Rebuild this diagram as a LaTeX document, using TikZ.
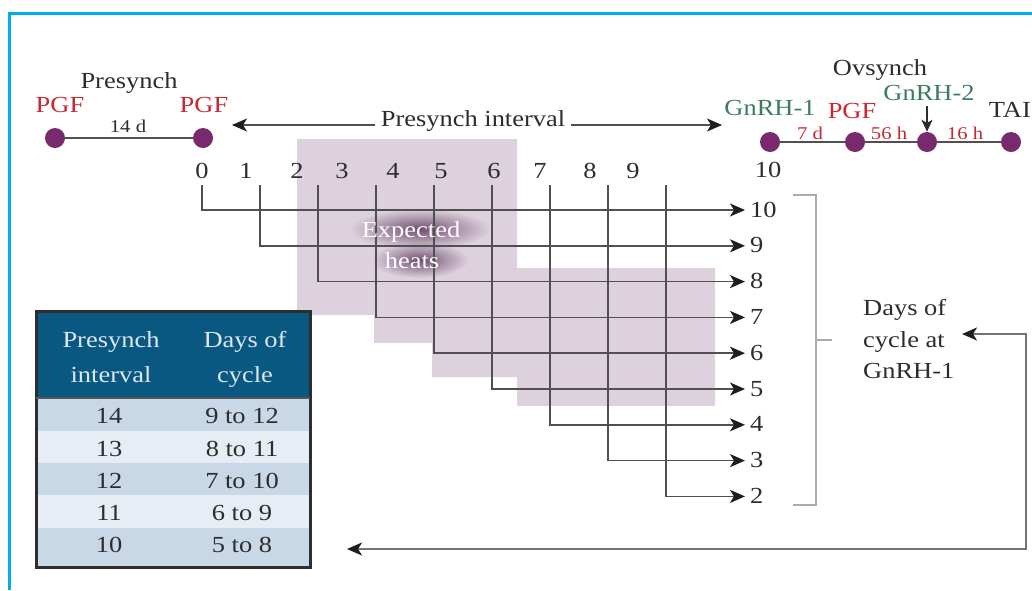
\documentclass[tikz,border=0pt]{standalone}
\usepackage{fontspec}
\setmainfont[FakeStretch=1.15]{Liberation Serif}
\usetikzlibrary{arrows.meta,fadings}
\definecolor{framec}{RGB}{0,174,239}
\definecolor{ink}{RGB}{45,45,45}
\definecolor{redc}{RGB}{200,40,50}
\definecolor{greenc}{RGB}{60,125,95}
\definecolor{dotc}{RGB}{120,42,108}
\definecolor{linec}{RGB}{80,80,80}
\definecolor{tipc}{RGB}{30,30,30}
\definecolor{heatc}{RGB}{221,209,221}
\definecolor{hdr}{RGB}{8,88,130}
\definecolor{hdrtxt}{RGB}{222,230,238}
\definecolor{rowA}{RGB}{201,216,230}
\definecolor{rowB}{RGB}{231,237,245}
\definecolor{brk}{RGB}{170,170,170}
\definecolor{glowc}{RGB}{100,65,100}
\newcommand\szA{\fontsize{23}{27}\selectfont}
\newcommand\szB{\fontsize{18}{21}\selectfont}
\tikzfading[name=softblob, inner color=transparent!10, outer color=transparent!100]
\begin{document}
\begin{tikzpicture}[x=1pt,y=-1pt,
  txt/.style={inner sep=0pt, anchor=base, text=ink, font=\szA},
  sml/.style={inner sep=0pt, anchor=base, font=\szB},
  dot/.style={circle, fill=dotc, minimum size=20pt, inner sep=0pt},
  tline/.style={draw=linec, line width=1.6pt},
  tip/.style={-{Stealth[length=15pt,width=13pt,inset=4pt,color=tipc]}},
  tips/.style={{Stealth[length=15pt,width=13pt,inset=4pt,color=tipc]}-{Stealth[length=15pt,width=13pt,inset=4pt,color=tipc]}},
  conn/.style={draw=linec, line width=1.5pt, tip},
  hd/.style={inner sep=0pt, anchor=base, font=\szA, text=hdrtxt},
  cell/.style={inner sep=0pt, anchor=base, font=\szA, text=ink}
]
\useasboundingbox (0,0) rectangle (1032,590);
% frame
\draw[framec, line width=3pt] (9,590) -- (9,13) -- (1032,13);

% ---------- shaded expected heats (background)
\fill[heatc] (297,139) -- (517,139) -- (517,268) -- (715,268) -- (715,406)
  -- (517,406) -- (517,377) -- (432,377) -- (432,343) -- (374,343) -- (374,315)
  -- (297,315) -- cycle;

% ---------- left timeline (Presynch)
\node[txt] (presynch) at (129,88) {Presynch};
\node[txt, text=redc] (pgfa) at (60,112) {PGF};
\node[txt, text=redc] (pgfb) at (204,112) {PGF};
\node[dot] (da) at (55,138) {};
\node[dot] (db) at (203,138) {};
\draw[tline] (da) -- (db);
\node[sml, text=ink] (d14) at (128,132) {14 d};

% ---------- Presynch interval arrow
\coordinate (pil) at (232,125);
\coordinate (pir) at (722,125);
\draw[draw=linec, line width=1.5pt, tips] (pil) -- (pir);
\node[txt, fill=white, inner sep=6pt, anchor=center] (pint) at (473,121) {Presynch interval};

% ---------- right timeline (Ovsynch)
\node[txt] (ovs) at (880,75) {Ovsynch};
\node[txt, text=greenc] (g1) at (770,115) {GnRH-1};
\node[txt, text=redc] (pgfc) at (852,118) {PGF};
\node[txt, text=greenc] (g2) at (929,100) {GnRH-2};
\node[txt, anchor=base east] (tai) at (1031,117) {TAI};
\node[dot] (o1) at (770,142) {};
\node[dot] (o2) at (855,142) {};
\node[dot] (o3) at (927,142) {};
\node[dot] (o4) at (1011,142) {};
\draw[tline] (o1) -- (o2) -- (o3) -- (o4);
\node[sml, text=redc] (l7) at (810,139) {7 d};
\node[sml, text=redc] (l56) at (889,139) {56 h};
\node[sml, text=redc] (l16) at (965,139) {16 h};
\coordinate (g2a) at (927,106);
\draw[draw=ink, line width=1.5pt, -{Stealth[length=12pt,width=11pt,inset=3pt]}] (g2a) -- (o3.north);
\node[txt] (ten) at (768,177) {10};

% ---------- top day numbers
\foreach \n/\x in {0/202,1/246,2/297,3/342,4/393,5/441,6/494,7/540,8/590,9/633}
  \node[txt] (t\n) at (\x,178) {\n};

% ---------- glow behind "Expected heats"
\fill[glowc, opacity=1, path fading=softblob] (420,229) ellipse [x radius=70pt, y radius=20pt];
\fill[glowc, opacity=1, path fading=softblob] (420,260) ellipse [x radius=48pt, y radius=18pt];

% ---------- stair arrows
\foreach \i in {0,...,8} {
  \pgfmathsetmacro\xx{202+58*\i}
  \pgfmathsetmacro\yy{210+35.8*\i}
  \pgfmathtruncatemacro\lab{10-\i}
  \coordinate (v\i) at (\xx,185);
  \coordinate (e\i) at (745,\yy);
  \node[txt, anchor=base west] (r\lab) at (750,\yy+7) {\lab};
  \draw[conn] (v\i) |- (e\i);
}

\node[txt, text=white] (exp) at (411,237) {Expected};
\node[txt, text=white] (heats) at (412,268) {heats};

% ---------- bracket and label
\draw[brk, line width=2pt] (793,195) -- (816,195) -- (816,505) -- (793,505);
\draw[brk, line width=2pt] (816,340) -- (832,340);
\node[txt, anchor=base west] (dc1) at (863,315) {Days of};
\node[txt, anchor=base west] (dc2) at (863,347) {cycle at};
\node[txt, anchor=base west] (dc3) at (863,378) {GnRH-1};
\coordinate (ae) at (962,334);
\coordinate (cr) at (1026,549);
\coordinate (be) at (347,549);
\draw[draw=linec!80, line width=1.8pt, tips] (ae) -| (cr) -- (be);

% ---------- table
\fill[hdr] (36,311) rectangle (310,398);
\fill[rowA] (36,398) rectangle (310,430.5);
\fill[rowB] (36,430.5) rectangle (310,463);
\fill[rowA] (36,463) rectangle (310,495);
\fill[rowB] (36,495) rectangle (310,527.5);
\fill[rowA] (36,527.5) rectangle (310,567);
\draw[draw=ink, line width=3pt] (36,311) rectangle (310,567);
\draw[draw=ink!80, line width=1.5pt] (36,398) -- (310,398);
\node[hd] (h1a) at (111,347) {Presynch};
\node[hd] (h1b) at (111,382) {interval};
\node[hd] (h2a) at (245,347) {Days of};
\node[hd] (h2b) at (245,382) {cycle};
\foreach \a/\b/\y [count=\k] in {14/9 to 12/423, 13/8 to 11/456, 12/7 to 10/488, 11/6 to 9/520, 10/5 to 8/552} {
  \node[cell] (ta\k) at (109,\y) {\a};
  \node[cell] (tb\k) at (242,\y) {\b};
}
\end{tikzpicture}
\end{document}
